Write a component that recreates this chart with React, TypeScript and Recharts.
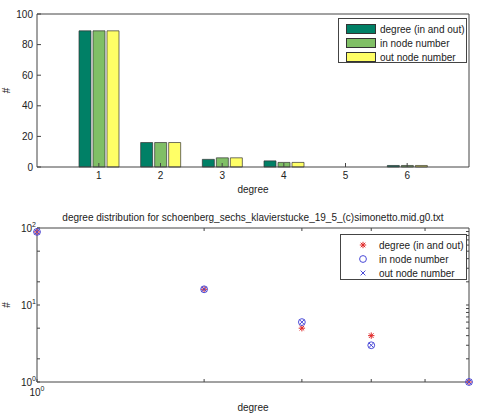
import React from 'react';
import {
  BarChart, Bar, XAxis, YAxis, Legend, ScatterChart, Scatter, ReferenceLine,
} from 'recharts';

// ---------- data ----------
const degrees = [1, 2, 3, 4, 5, 6];
const degreeInOut = [89, 16, 5, 4, 0, 1];
const inNode = [89, 16, 6, 3, 0, 1];
const outNode = [89, 16, 6, 3, 0, 1];
const seriesNames = ['degree (in and out)', 'in node number', 'out node number'];
const barTicksY = [0, 20, 40, 60, 80, 100];
const logTicksY = [1, 2, 3, 4, 5, 6, 7, 8, 9, 10, 20, 30, 40, 50, 60, 70, 80, 90, 100];
const logMajorY = [1, 10, 100];
const logTicksXTop = [2, 3, 4, 5];
const logTicksXBottom = [1, 2, 3, 4, 5];
const titleText = 'degree distribution for schoenberg_sechs_klavierstucke_19_5_(c)simonetto.mid.g0.txt';

const barData = degrees.map((d, i) => ({
  degree: d,
  a: degreeInOut[i],
  b: inNode[i],
  c: outNode[i],
}));

const toPoints = (vals: number[]) =>
  degrees.map((d, i) => ({ x: d, y: vals[i] })).filter((p) => p.y > 0);

// log axes extents (for the frame on the top/right of the lower plot)
const LX = [1, 6];
const LY = [1, 100];
const PLOT_W = 432;
const PLOT_H = 154;
const TICK_PX = 3;
const yTickFactor = Math.pow(10, (TICK_PX * Math.log10(LY[1] / LY[0])) / PLOT_H);
const xTickFactor = Math.pow(10, (TICK_PX * Math.log10(LX[1] / LX[0])) / PLOT_W);

const FONT = '"Liberation Sans", Arial, Helvetica, sans-serif';
const AXIS = '#444';
const TXT = '#222';
const C1 = '#008066';
const C2 = '#80bf66';
const C3 = '#ffff66';
const RED = '#e02828';
const BLUE = '#4a4ad8';

const tickStyle = { fontSize: 10, fill: TXT, fontFamily: FONT };

// ---------- custom ticks ----------
const LogYTick = (props: any) => {
  const { x, y, payload } = props;
  const v = payload.value;
  if (!logMajorY.includes(v)) return <g />;
  const exp = Math.round(Math.log10(v));
  return (
    <text x={x} y={y} dy="0.35em" textAnchor="end" style={tickStyle}>
      10<tspan dy={-5} fontSize={7}>{exp}</tspan>
    </text>
  );
};

const LogXTick = (props: any) => {
  const { x, y, payload } = props;
  const v = payload.value;
  if (v !== 1) return <g />;
  return (
    <text x={x} y={y} dy="0.71em" textAnchor="middle" style={tickStyle}>
      10<tspan dy={-5} fontSize={7}>0</tspan>
    </text>
  );
};

// ---------- markers ----------
const Asterisk = (props: any) => {
  const { cx, cy } = props;
  if (cx == null || cy == null) return <g />;
  const r = 3.2;
  const d = r * 0.72;
  return (
    <g stroke={RED} strokeWidth={1}>
      <line x1={cx - r} y1={cy} x2={cx + r} y2={cy} />
      <line x1={cx} y1={cy - r} x2={cx} y2={cy + r} />
      <line x1={cx - d} y1={cy - d} x2={cx + d} y2={cy + d} />
      <line x1={cx - d} y1={cy + d} x2={cx + d} y2={cy - d} />
    </g>
  );
};

const CircleMark = (props: any) => {
  const { cx, cy } = props;
  if (cx == null || cy == null) return <g />;
  return <circle cx={cx} cy={cy} r={3.4} fill="none" stroke={BLUE} strokeWidth={1} />;
};

const XMark = (props: any) => {
  const { cx, cy } = props;
  if (cx == null || cy == null) return <g />;
  const d = 2.4;
  return (
    <g stroke={BLUE} strokeWidth={1}>
      <line x1={cx - d} y1={cy - d} x2={cx + d} y2={cy + d} />
      <line x1={cx - d} y1={cy + d} x2={cx + d} y2={cy - d} />
    </g>
  );
};

// ---------- legends ----------
const boxStyle: React.CSSProperties = {
  border: `1px solid ${AXIS}`,
  background: '#fff',
  boxSizing: 'border-box',
  fontFamily: FONT,
  fontSize: 10,
  color: TXT,
  padding: '3px 0 0 0',
};

const BarLegend = () => {
  const colors = [C1, C2, C3];
  return (
    <div style={{ ...boxStyle, width: 129, height: 45 }}>
      {seriesNames.map((n, i) => (
        <div key={n} style={{ display: 'flex', alignItems: 'center', height: 14 }}>
          <div
            style={{
              width: 30, height: 10, marginLeft: 7, marginRight: 4,
              background: colors[i], border: '1px solid #333', boxSizing: 'border-box',
            }}
          />
          <span style={{ whiteSpace: 'nowrap' }}>{n}</span>
        </div>
      ))}
    </div>
  );
};

const ScatterLegend = () => {
  const marks = [Asterisk, CircleMark, XMark];
  return (
    <div style={{ ...boxStyle, width: 127, height: 46 }}>
      {seriesNames.map((n, i) => {
        const M = marks[i];
        return (
          <div key={n} style={{ display: 'flex', alignItems: 'center', height: 14 }}>
            <svg width={38} height={14} style={{ display: 'block' }}>
              <M cx={22} cy={7} />
            </svg>
            <span style={{ whiteSpace: 'nowrap' }}>{n}</span>
          </div>
        );
      })}
    </div>
  );
};

export default function App() {
  return (
    <div style={{ position: 'absolute', left: 0, top: 0, width: 477, height: 417, background: '#fff' }}>
      {/* top: bar chart */}
      <div style={{ position: 'absolute', left: 0, top: 0 }}>
        <BarChart
          width={477}
          height={200}
          data={barData}
          margin={{ top: 13, right: 7, bottom: 0, left: 0 }}
          barSize={12}
          barGap={2}
        >
          <XAxis
            dataKey="degree"
            type="category"
            padding={{ left: 31, right: 31 }}
            height={33}
            tickSize={-4}
            tickMargin={9}
            stroke={AXIS}
            tick={tickStyle}
            label={{ value: 'degree', position: 'insideBottom', offset: 7.5, style: { ...tickStyle } }}
          />
          <XAxis
            xAxisId="t"
            orientation="top"
            type="number"
            domain={[0, 7]}
            ticks={degrees}
            allowDataOverflow
            height={1}
            tickSize={-4}
            tick={false}
            stroke={AXIS}
          />
          <YAxis
            type="number"
            domain={[0, 100]}
            ticks={barTicksY}
            width={37}
            tickSize={-4}
            tickMargin={8}
            stroke={AXIS}
            tick={tickStyle}
            label={{
              value: '#', angle: -90, position: 'insideLeft', offset: 6,
              style: { ...tickStyle, textAnchor: 'middle' },
            }}
          />
          <YAxis
            yAxisId="r"
            orientation="right"
            type="number"
            domain={[0, 100]}
            ticks={barTicksY}
            allowDataOverflow
            width={1}
            tickSize={-4}
            tick={false}
            stroke={AXIS}
          />
          <Legend
            layout="vertical"
            align="center"
            verticalAlign="middle"
            wrapperStyle={{ top: 18, left: 338, width: 129, height: 45 }}
            content={() => <BarLegend />}
          />
          <Bar dataKey="a" name={seriesNames[0]} fill={C1} stroke="#333" strokeWidth={0.7} isAnimationActive={false} />
          <Bar dataKey="b" name={seriesNames[1]} fill={C2} stroke="#333" strokeWidth={0.7} isAnimationActive={false} />
          <Bar dataKey="c" name={seriesNames[2]} fill={C3} stroke="#333" strokeWidth={0.7} isAnimationActive={false} />
        </BarChart>
      </div>

      {/* bottom: log-log scatter */}
      <div style={{ position: 'absolute', left: 0, top: 200 }}>
        <ScatterChart
          width={477}
          height={217}
          margin={{ top: 28, right: 8, bottom: 0, left: 0 }}
        >
          <XAxis
            dataKey="x"
            type="number"
            scale="log"
            domain={LX}
            ticks={logTicksXBottom}
            height={35}
            tickSize={-3}
            tickMargin={10}
            stroke={AXIS}
            tick={<LogXTick />}
            label={{ value: 'degree', position: 'insideBottom', offset: 6.5, style: { ...tickStyle } }}
          />
          <YAxis
            dataKey="y"
            type="number"
            scale="log"
            domain={LY}
            ticks={logTicksY}
            width={37}
            tickSize={-3}
            tickMargin={4}
            stroke={AXIS}
            tick={<LogYTick />}
            label={{
              value: '#', angle: -90, position: 'insideLeft', offset: 6,
              style: { ...tickStyle, textAnchor: 'middle' },
            }}
          />
          {/* frame: top and right edges with inward ticks */}
          <ReferenceLine
            y={LY[1]}
            stroke={AXIS}
            label={{ value: titleText, position: 'top', offset: 7, style: { ...tickStyle } }}
          />
          <ReferenceLine x={LX[1]} stroke={AXIS} />
          {logTicksXTop.map((t) => (
            <ReferenceLine
              key={`tx${t}`}
              segment={[{ x: t, y: LY[1] }, { x: t, y: LY[1] / yTickFactor }]}
              stroke={AXIS}
            />
          ))}
          {logTicksY.slice(1, -1).map((t) => (
            <ReferenceLine
              key={`ty${t}`}
              segment={[{ x: LX[1], y: t }, { x: LX[1] / xTickFactor, y: t }]}
              stroke={AXIS}
            />
          ))}
          <Legend
            layout="vertical"
            align="center"
            verticalAlign="middle"
            wrapperStyle={{ top: 34, left: 340, width: 127, height: 46 }}
            content={() => <ScatterLegend />}
          />
          <Scatter name={seriesNames[0]} data={toPoints(degreeInOut)} shape={<Asterisk />} isAnimationActive={false} />
          <Scatter name={seriesNames[1]} data={toPoints(inNode)} shape={<CircleMark />} isAnimationActive={false} />
          <Scatter name={seriesNames[2]} data={toPoints(outNode)} shape={<XMark />} isAnimationActive={false} />
        </ScatterChart>
      </div>
    </div>
  );
}
